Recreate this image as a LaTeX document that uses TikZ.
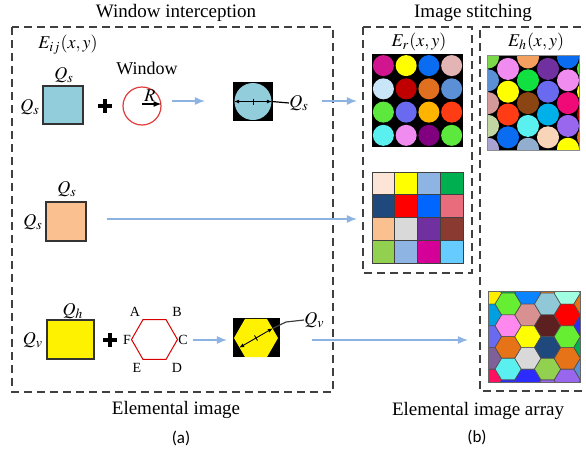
\documentclass[tikz,border=0pt]{standalone}
\usepackage{mathptmx}
\usepackage{fontspec}
\setmainfont{Liberation Serif}
\setsansfont{Carlito}
\usepackage{tikz}
\usetikzlibrary{arrows.meta,calc,positioning,shapes.geometric}
\definecolor{frameg}{HTML}{404040}
\definecolor{flowblue}{HTML}{8DB3E2}
\definecolor{boxblue}{HTML}{92CDDC}
\definecolor{boxorange}{HTML}{FAC090}
\definecolor{winred}{HTML}{E03C3C}
% circle patches
\definecolor{cMag}{HTML}{D0158F}
\definecolor{cYel}{HTML}{FFFF00}
\definecolor{cBlu}{HTML}{0A6CF0}
\definecolor{cRose}{HTML}{E2B4B4}
\definecolor{cIce}{HTML}{C8E6F8}
\definecolor{cDred}{HTML}{C00000}
\definecolor{cOra}{HTML}{E07020}
\definecolor{cSteel}{HTML}{5B8FD6}
\definecolor{cLime}{HTML}{5CE83C}
\definecolor{cPeri}{HTML}{6A6AF0}
\definecolor{cAmb}{HTML}{FFB400}
\definecolor{cRor}{HTML}{FF3C14}
\definecolor{cCya}{HTML}{5AF0F0}
\definecolor{cPink}{HTML}{F08CF0}
\definecolor{cPur}{HTML}{800080}
% square patches
\definecolor{sPeach}{HTML}{FCE4D6}
\definecolor{sSky}{HTML}{8EB4E3}
\definecolor{sGreen}{HTML}{00B050}
\definecolor{sNavy}{HTML}{1F497D}
\definecolor{sRed}{HTML}{FF0000}
\definecolor{sBlue}{HTML}{0066FF}
\definecolor{sCoral}{HTML}{E96C7C}
\definecolor{sGray}{HTML}{D9D9D9}
\definecolor{sViolet}{HTML}{7030A0}
\definecolor{sMaroon}{HTML}{8B3A32}
\definecolor{sYG}{HTML}{92D050}
\definecolor{sMag}{HTML}{D40098}
\definecolor{sLblue}{HTML}{66CCFF}
% hex-packed circles
\definecolor{hLtGreen}{HTML}{7CD84A}
\definecolor{hRose}{HTML}{D49A9A}
\definecolor{hSage}{HTML}{C2D6A4}
\definecolor{hLav}{HTML}{A9A3D1}
\definecolor{hApri}{HTML}{F4A060}
\definecolor{hGreen}{HTML}{10E040}
\definecolor{hBrown}{HTML}{8B4513}
\definecolor{hLtSteel}{HTML}{92AECF}
\definecolor{hAzure}{HTML}{00B0E8}
\definecolor{hPeach}{HTML}{F8D4B8}
\definecolor{hHot}{HTML}{F00A78}
\definecolor{hViolet}{HTML}{9966EE}
% hexagon cells
\definecolor{xYel}{HTML}{FFEE00}
\definecolor{xSky}{HTML}{00A0E0}
\definecolor{xMauve}{HTML}{806099}
\definecolor{xRuby}{HTML}{FF1060}
\definecolor{xLime}{HTML}{66EE33}
\definecolor{xPink}{HTML}{FF88EE}
\definecolor{xOra}{HTML}{E67317}
\definecolor{xBlue}{HTML}{2C2CFF}
\definecolor{xAzure}{HTML}{0A84FF}
\definecolor{xRose}{HTML}{D89090}
\definecolor{xIce}{HTML}{90C8D8}
\definecolor{xBrown}{HTML}{5C2020}
\definecolor{xMint}{HTML}{A0FFE0}
\tikzset{
  frame/.style={draw=frameg, line width=0.75pt, dash pattern=on 4pt off 2.5pt},
  flow/.style={draw=flowblue, line width=0.75pt, -{Latex[length=5pt,width=4pt]}},
  patch/.style={draw=black!80, line width=0.7pt, inner sep=0pt},
  head/.style={font=\fontsize{9.5}{11}\selectfont},
  lbl/.style={inner sep=0pt},
  vtx/.style={font=\fontsize{7}{8}\selectfont, inner sep=0pt},
  capt/.style={font=\sffamily\fontsize{8.5}{10}\selectfont},
  dim/.style={line width=0.45pt, {Latex[length=2.5pt,width=2pt]}-{Latex[length=2.5pt,width=2pt]}},
  plus/.style={line width=2pt},
  hexcell/.style={draw=black!70, line width=0.3pt},
}
\begin{document}
\begin{tikzpicture}[x=0.5pt,y=-0.5pt,font=\fontsize{9}{10}\selectfont]
  \useasboundingbox (0,0) rectangle (586,451);
  % headings and frames
  \node[head] (tWin) at (176,13) {Window interception};
  \node[head] (tSti) at (473,13) {Image stitching};
  \node[head] (tEl) at (176,410) {Elemental image};
  \node[head] (tEla) at (478,411) {Elemental image array};
  \node[capt] (capA) at (181,438) {(a)};
  \node[capt] (capB) at (477,437) {(b)};
  \draw[frame] (12,27) rectangle (333,392);
  \draw[frame] (363,27) rectangle (472,273);
  \draw[frame] (594,27) -- (480,27) -- (480,391) -- (594,391);

  % row 1: circular window
  \node[lbl] (eij) at (68,45) {$E_{ij}(x,y)$};
  \node[patch, fill=boxblue, minimum width=20pt, minimum height=19pt] (sqS) at (63,105) {};
  \node[lbl] (qsTop) at (64,75) {$Q_s$};
  \node[lbl] (qsLeft) at (30,107) {$Q_s$};
  \draw[plus] (98,106) -- (112,106) (105,99) -- (105,113);
  \node (winLab) at (147,68) {Window};
  \node[circle, draw=winred, line width=0.6pt, minimum size=19pt, inner sep=0pt] (win) at (142,106) {};
  \draw[line width=0.7pt, -{Latex[length=4pt,width=3pt]}] ([yshift=1pt]win.center) -- ([yshift=1pt]win.east);
  \node[lbl] (rLab) at (150,96) {$R$};
  \coordinate (f1a) at (172,101);
  \coordinate (f1b) at (205,101);
  \draw[flow] (f1a) -- (f1b);
  \node[fill=black, minimum width=20pt, minimum height=19.5pt, inner sep=0pt] (cutS) at (253,101.5) {};
  \node[circle, fill=boxblue, minimum size=18.5pt, inner sep=0pt] (cutC) at (cutS) {};
  \draw[dim] (cutC.west) -- (cutC.east);
  \draw[line width=0.45pt] ($(cutC.center)+(0,-3)$) -- ($(cutC.center)+(0,3)$);
  \node[lbl, anchor=west] (qsCut) at (289,103) {$Q_s$};
  \draw[line width=0.6pt] (cutC.east) -- (qsCut.west);
  \coordinate (f2a) at (322,101);
  \coordinate (f2b) at (357,101);
  \draw[flow] (f2a) -- (f2b);

  % row 2: square window
  \node[patch, fill=boxorange, minimum width=20pt, minimum height=19.5pt] (sqO) at (66,221.5) {};
  \node[lbl] (qoTop) at (67,189) {$Q_s$};
  \node[lbl] (qoLeft) at (33,222) {$Q_s$};
  \coordinate (f3a) at (107,219);
  \coordinate (f3b) at (357,219);
  \draw[flow] (f3a) -- (f3b);

  % row 3: hexagonal window
  \node[patch, fill=yellow, minimum width=23.5pt, minimum height=19.5pt] (sqY) at (70.5,339.5) {};
  \node[lbl] (qhTop) at (73,311) {$Q_h$};
  \node[lbl] (qvLeft) at (33,340) {$Q_v$};
  \draw[plus] (103,340) -- (117,340) (110,333) -- (110,347);
  \node[regular polygon, regular polygon sides=6, draw=red!85!black, line width=0.5pt,
        minimum size=23pt, inner sep=0pt] (hexW) at (154.5,339.5) {};
  \node[vtx] (vA) at (135,312) {A};
  \node[vtx] (vB) at (177,312) {B};
  \node[vtx] (vC) at (183,340) {C};
  \node[vtx] (vD) at (177,368) {D};
  \node[vtx] (vE) at (137,368) {E};
  \node[vtx] (vF) at (127,340) {F};
  \coordinate (f4a) at (193,340);
  \coordinate (f4b) at (227,340);
  \draw[flow] (f4a) -- (f4b);
  \node[fill=black, minimum width=23.5pt, minimum height=19.5pt, inner sep=0pt] (cutH) at (256.5,337.5) {};
  \node[regular polygon, regular polygon sides=6, fill=yellow, minimum size=22pt, inner sep=0pt] (hexY) at (256,338) {};
  \draw[dim] (hexY.210) -- (hexY.30);
  \draw[line width=0.45pt] ($(hexY.center)+(-1.5,-2.6)$) -- ($(hexY.center)+(1.5,2.6)$);
  \node[lbl, anchor=west] (qvCut) at (304,320) {$Q_v$};
  \draw[line width=0.6pt, black!75] (hexY.30) -- (286,322) -- (qvCut.west);
  \coordinate (f5a) at (312,340);
  \coordinate (f5b) at (468,340);
  \draw[flow] (f5a) -- (f5b);

  % stitched arrays
  \node[lbl] (erLab) at (419,42) {$E_r(x,y)$};
  \node[lbl] (ehLab) at (536,42) {$E_h(x,y)$};
  \node[fill=black, minimum width=45.5pt, minimum height=46.5pt, inner sep=0pt] (gridR) at (417.5,100.5) {};
  \foreach \cc [count=\k from 0] in {cMag,cYel,cBlu,cRose,cIce,cDred,cOra,cSteel,
                                     cLime,cPeri,cAmb,cRor,cCya,cPink,cPur,cLime} {
    \pgfmathtruncatemacro\ci{mod(\k,4)}
    \pgfmathtruncatemacro\rj{div(\k,4)}
    \fill[\cc] ({383.4+22.75*\ci},{65.6+23.25*\rj}) circle[radius=10.5];
  }
  \foreach \cc [count=\k from 0] in {sPeach,cYel,sSky,sGreen,sNavy,sRed,sBlue,sCoral,
                                     boxorange,sGray,sViolet,sMaroon,sYG,sSky,sMag,sLblue} {
    \pgfmathtruncatemacro\ci{mod(\k,4)}
    \pgfmathtruncatemacro\rj{div(\k,4)}
    \filldraw[fill=\cc, draw=black!75, line width=0.4pt] ({372+22.75*\ci},{172+22.75*\rj}) rectangle ++(22.75,22.75);
  }
  \node[minimum width=45.5pt, minimum height=47pt, inner sep=0pt] (gridH) at (533.5,103) {};
  \begin{scope}
    \clip (gridH.south west) rectangle (gridH.north east);
    \fill[black] (gridH.south west) rectangle (gridH.north east);
    \foreach \cc [count=\k from 0] in {hLtGreen,cSteel,hRose,hSage,hLav,
                                       cPink,cYel,cRor,cBlu,black,
                                       hApri,hGreen,hBrown,cCya,hLtSteel,
                                       sViolet,cPeri,hAzure,hPeach,black,
                                       cBlu,cPink,hHot,hViolet,cYel,
                                       cLime,cYel,cDred,cOra,black} {
      \pgfmathtruncatemacro\ci{div(\k,5)}
      \pgfmathtruncatemacro\rj{mod(\k,5)}
      \fill[\cc] ({488+20*\ci},{57.5+22.8*\rj+11.4*mod(\ci,2)}) circle[radius=11];
    }
  \end{scope}
  \draw[black!45, line width=0.6pt] (gridH.south west) rectangle (gridH.north east);
  \node[minimum width=45.5pt, minimum height=45pt, inner sep=0pt] (gridV) at (534.5,337) {};
  \begin{scope}
    \clip (gridV.south west) rectangle (gridV.north east);
    \foreach \cc [count=\k from 0] in {xYel,xSky,cPeri,xMauve,xRuby,white,
                                       sGreen,xLime,xPink,xOra,cCya,xBlue,
                                       xAzure,xRose,cYel,sGray,xBlue,white,
                                       xOra,xIce,xBrown,sNavy,sYG,hViolet,
                                       xMint,sRed,xLime,xOra,hViolet,white,
                                       cYel,xOra,xBlue,sGreen,cSteel,xPink} {
      \pgfmathtruncatemacro\ci{div(\k,6)}
      \pgfmathtruncatemacro\rj{mod(\k,6)}
      \pgfmathsetmacro\hx{488.5+19.7*\ci}
      \pgfmathsetmacro\hy{282.3+21.7*\rj+11*(1-mod(\ci,2))}
      \filldraw[hexcell, fill=\cc] (\hx,\hy) ++(-13.1,0) -- ++(6.55,-10.85) -- ++(13.1,0)
        -- ++(6.55,10.85) -- ++(-6.55,10.85) -- ++(-13.1,0) -- cycle;
    }
  \end{scope}
  \draw[black!60, line width=0.6pt] (gridV.south west) rectangle (gridV.north east);
\end{tikzpicture}
\end{document}
